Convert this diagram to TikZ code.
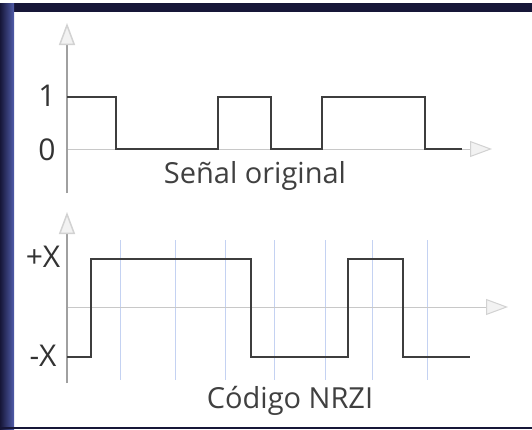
\documentclass[tikz,border=0pt]{standalone}
\usepackage{fontspec}
\setmainfont{Open Sans}
\usepackage{tikz}
\usetikzlibrary{arrows.meta}
\definecolor{framenavy}{RGB}{22,22,56}
\definecolor{frameblue}{RGB}{80,92,170}
\definecolor{sigdark}{RGB}{62,62,62}
\definecolor{axisgray}{RGB}{160,160,160}
\definecolor{zerogray}{RGB}{200,200,200}
\definecolor{gridblue}{RGB}{196,210,242}
\tikzset{
  axistip/.style={-{Triangle[length=22pt,width=16pt,fill=gray!10,color=gray!35]}},
  axisline/.style={axisgray, line width=1.5pt},
  zeroline/.style={zerogray, line width=1pt},
  gridline/.style={gridblue, line width=1pt},
  signal/.style={sigdark, line width=2.2pt, line join=miter},
  levellabel/.style={font=\fontsize{30}{32}\selectfont, text=black!80},
  caption/.style={font=\fontsize{29}{31}\selectfont, text=black!75}
}

\begin{document}
\begin{tikzpicture}[x=1pt, y=-1pt]
    \useasboundingbox (0,0) rectangle (532,429);
    % frame round the drawing
    \fill[white] (0,0) rectangle (532,429);
    \fill[framenavy] (0,3) rectangle (532,12);
    \shade[left color=framenavy, right color=frameblue] (0,3) rectangle (14,429);
    \fill[framenavy] (0,427) rectangle (532,429);

    % upper graph: original signal
    \draw[zeroline, axistip] (67,149) -- (492,149);
    \draw[axisline, axistip] (67,193) -- (67,23);
    \draw[signal] (67,97) -- (116,97) -- (116,149) -- (218,149) -- (218,97)
        -- (271,97) -- (271,149) -- (322,149) -- (322,97) -- (425,97)
        -- (425,149) -- (462,149);
    \node[levellabel] (one) at (47,96) {1};
    \node[levellabel] (zero) at (47,150) {0};
    \node[caption] (orig) at (255,176) {Señal original};

    % lower graph: NRZI code
    \foreach \gx in {120,175,225,274,325,372,427}
        \draw[gridline] (\gx,240) -- (\gx,380);
    \draw[zeroline, axistip] (67,307) -- (508,307);
    \draw[axisline, axistip] (67,383) -- (67,212);
    \draw[signal] (67,357) -- (91,357) -- (91,259) -- (251,259) -- (251,357)
        -- (348,357) -- (348,259) -- (403,259) -- (403,357) -- (470,357);
    \node[levellabel] (plusx) at (43,257) {+X};
    \node[levellabel] (minusx) at (43,356) {-X};
    \node[caption] (nrzi) at (290,401) {Código NRZI};
\end{tikzpicture}
\end{document}
